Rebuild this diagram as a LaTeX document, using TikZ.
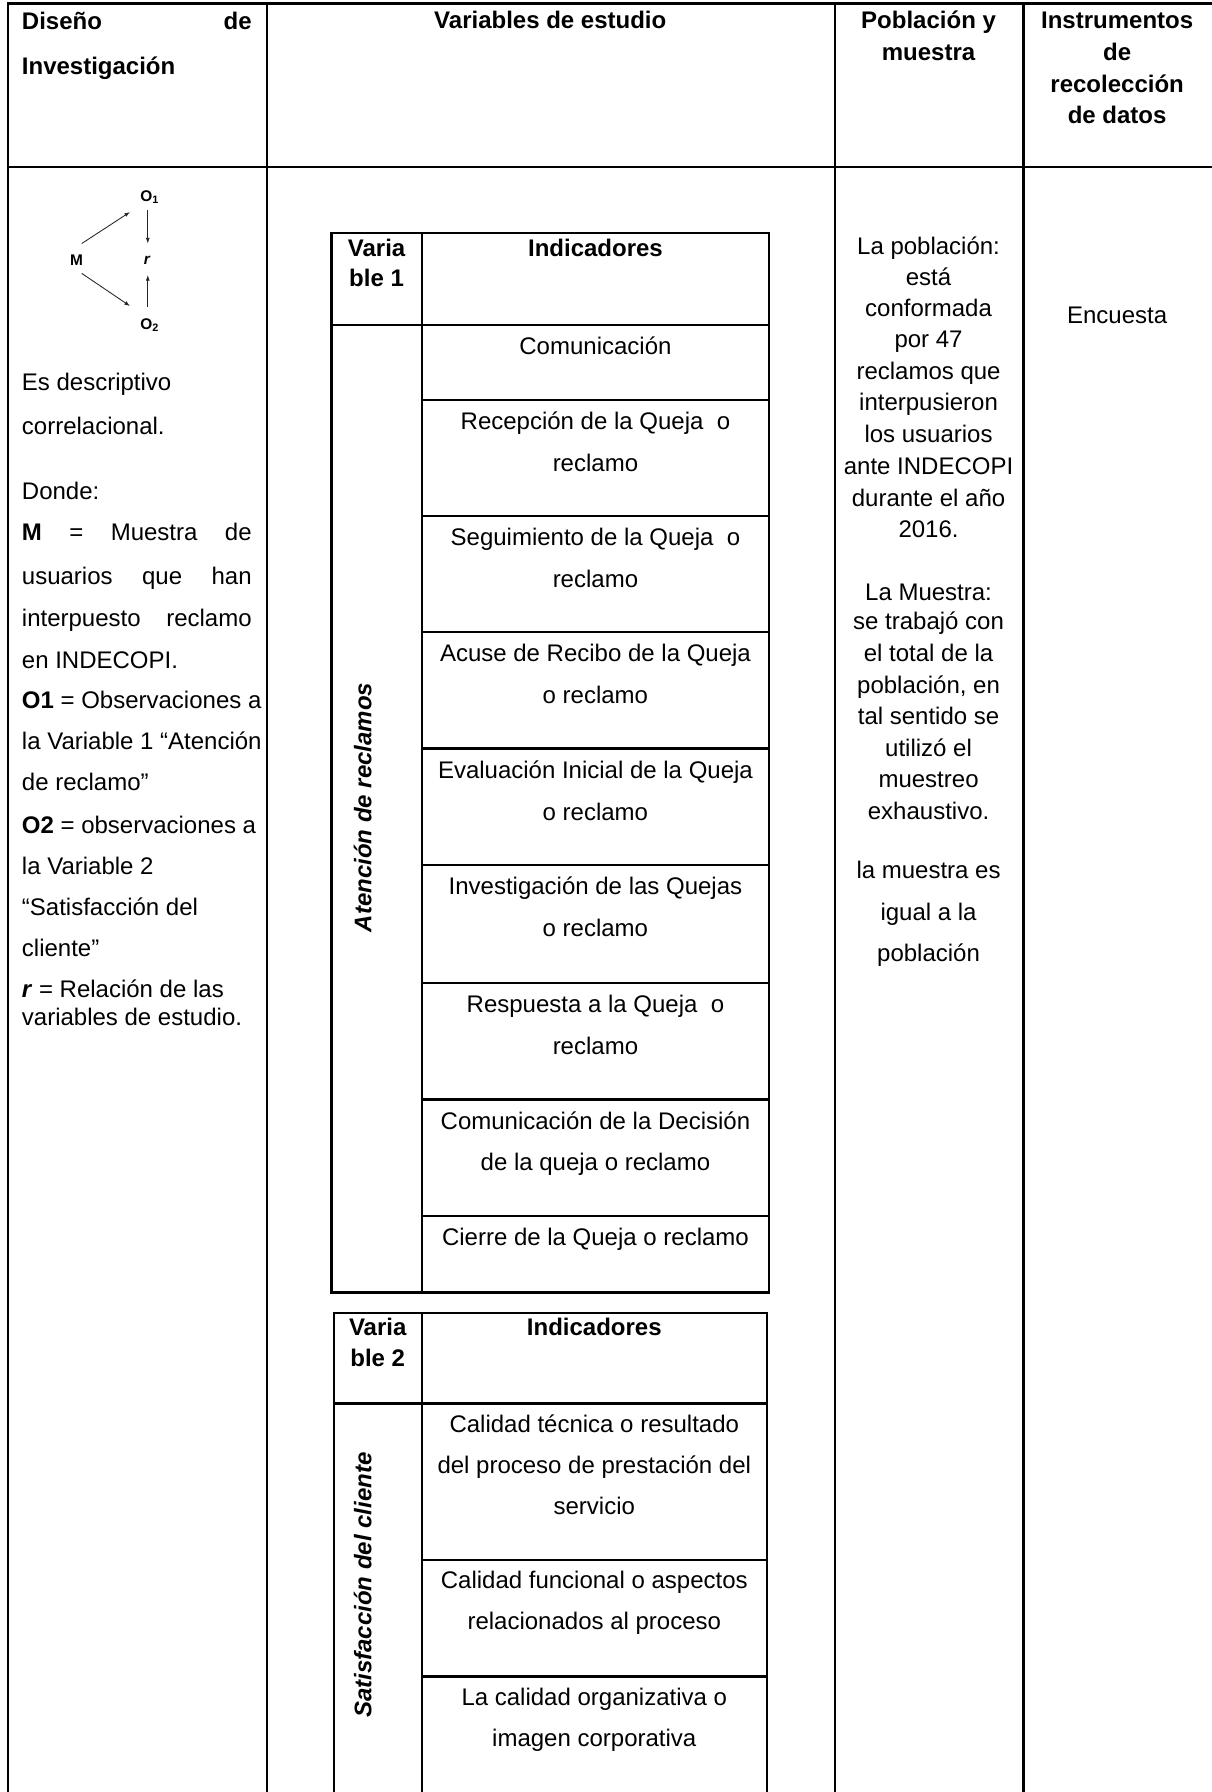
\documentclass[tikz,border=0pt]{standalone}
\usepackage{fontspec}
\setmainfont{Liberation Sans}
\usetikzlibrary{arrows.meta}
\begin{document}
\begin{tikzpicture}[x=1pt,y=-1pt,
  rule/.style={line width=2.1pt, line cap=rect},
  txt/.style={inner sep=0pt, font=\fontsize{21}{25}\selectfont},
  bl/.style={txt, anchor=base west},
  bc/.style={txt, anchor=base},
  hd/.style={inner sep=0pt, anchor=base, font=\fontsize{21}{25}\selectfont\bfseries},
  hdl/.style={inner sep=0pt, anchor=base west, font=\fontsize{21}{25}\selectfont\bfseries},
  vtxt/.style={inner sep=0pt, anchor=base, rotate=90, font=\fontsize{21}{25}\selectfont\bfseries\itshape},
  dg/.style={inner sep=0pt, font=\fontsize{13.5}{15}\selectfont\bfseries},
  arr/.style={line width=0.75pt, draw=black!85, -{Latex[length=5pt,width=3.5pt]}}]
\useasboundingbox (0,0) rectangle (1060,1568);
\fill[white] (0,0) rectangle (1060,1568);

% outer table
\draw[rule] (7,3) -- (1066,3);
\draw[rule] (7,146) -- (1066,146);
\draw[rule] (7,3) -- (7,1575);
\draw[rule] (233.5,3) -- (233.5,1575);
\draw[rule] (730.5,3) -- (730.5,1575);
\draw[rule] (895.5,3) -- (895.5,1575);

% header texts
\node[hdl] (h1a) at (19,26) {\makebox[201pt][s]{Diseño de}};
\node[hdl] (h1b) at (19,65) {Investigación};
\node[hd] (h2) at (481.5,25) {Variables de estudio};
\node[hd] (h3a) at (812.5,25) {Población y};
\node[hd] (h3b) at (812.5,53) {muestra};
\node[hd] (h4a) at (977.5,25) {Instrumentos};
\node[hd] (h4b) at (977.5,53) {de};
\node[hd] (h4c) at (977.5,81) {recolección};
\node[hd] (h4d) at (977.5,108) {de datos};

% design diagram
\node[dg] (M) at (67,227.6) {M};
\node[dg] (O1) at (131,172.5) {O\textsubscript{1}};
\node[dg] (r) at (128.6,227.6) {\itshape r};
\node[dg] (O2) at (131,284.5) {O\textsubscript{2}};
\draw[arr] ([shift={(4.5,-14.5)}]M.center) -- ([shift={(-17.2,13)}]O1.center);
\draw[arr] ([shift={(-1.7,11.5)}]O1.center) -- ([shift={(0.7,-14.5)}]r.center);
\draw[arr] ([shift={(4.5,11.6)}]M.center) -- ([shift={(-17.2,-16.7)}]O2.center);
\draw[arr] ([shift={(-1.7,-16)}]O2.center) -- ([shift={(0.7,13)}]r.center);

% left column text
\node[bl] (l1) at (19,342) {Es descriptivo};
\node[bl] (l2) at (19,380) {correlacional.};
\node[bl] (l3) at (19,437) {Donde:};
\node[bl] (l4) at (19,473) {\makebox[201pt][s]{\textbf{M} = Muestra de}};
\node[bl] (l5) at (19,511) {\makebox[201pt][s]{usuarios que han}};
\node[bl] (l6) at (19,548) {\makebox[201pt][s]{interpuesto reclamo}};
\node[bl] (l7) at (19,585) {en INDECOPI.};
\node[bl] (l8) at (19,620) {\textbf{O1} = Observaciones a};
\node[bl] (l9) at (19,656) {la Variable 1 “Atención};
\node[bl] (l10) at (19,692) {de reclamo”};
\node[bl] (l11) at (19,729) {\textbf{O2} = observaciones a};
\node[bl] (l12) at (19,765) {la Variable 2};
\node[bl] (l13) at (19,801) {“Satisfacción del};
\node[bl] (l14) at (19,837) {cliente”};
\node[bl] (l15) at (19,873) {\textbf{\itshape r} = Relación de las};
\node[bl] (l16) at (19,897) {variables de estudio.};

% inner table 1
\draw[rule] (290,204) rectangle (673,1131);
\draw[rule] (369,204) -- (369,1131);
\draw[rule] (290,284.5) -- (673,284.5);
\foreach \yy in {350,451.6,553,655,757,860,962,1064}
  \draw[rule] (369,\yy) -- (673,\yy);
\node[hd] (v1a) at (329.5,224) {Varia};
\node[hd] (v1b) at (329.5,251) {ble 1};
\node[hd] (i1) at (521,224) {Indicadores};
\node[vtxt] (var1) at (325,706.5) {Atención de reclamos};
\node[bc] (a1) at (521,310) {Comunicación};
\node[bc] (a2a) at (521,376) {Recepción de la Queja\ \ o};
\node[bc] (a2b) at (521,412.5) {reclamo};
\node[bc] (a3a) at (521,477.5) {Seguimiento de la Queja\ \ o};
\node[bc] (a3b) at (521,514) {reclamo};
\node[bc] (a4a) at (521,579) {Acuse de Recibo de la Queja};
\node[bc] (a4b) at (521,615.5) {o reclamo};
\node[bc] (a5a) at (521,681) {Evaluación Inicial de la Queja};
\node[bc] (a5b) at (521,717.5) {o reclamo};
\node[bc] (a6a) at (521,783) {Investigación de las Quejas};
\node[bc] (a6b) at (521,819.5) {o reclamo};
\node[bc] (a7a) at (521,886) {Respuesta a la Queja\ \ o};
\node[bc] (a7b) at (521,922.5) {reclamo};
\node[bc] (a8a) at (521,988) {Comunicación de la Decisión};
\node[bc] (a8b) at (521,1024.5) {de la queja o reclamo};
\node[bc] (a9) at (521,1090) {Cierre de la Queja o reclamo};

% inner table 2
\draw[rule] (292,1575) -- (292,1149) -- (671,1149) -- (671,1575);
\draw[rule] (369,1149) -- (369,1575);
\draw[rule] (292,1228) -- (671,1228);
\draw[rule] (369,1365) -- (671,1365);
\draw[rule] (369,1467) -- (671,1467);
\node[hd] (v2a) at (330.5,1168.5) {Varia};
\node[hd] (v2b) at (330.5,1195.5) {ble 2};
\node[hd] (i2) at (520,1168.5) {Indicadores};
\node[vtxt] (var2) at (325,1387) {Satisfacción del cliente};
\node[bc] (b1a) at (520,1253) {Calidad técnica o resultado};
\node[bc] (b1b) at (520,1289) {del proceso de prestación del};
\node[bc] (b1c) at (520,1325) {servicio};
\node[bc] (b2a) at (520,1390) {Calidad funcional o aspectos};
\node[bc] (b2b) at (520,1426) {relacionados al proceso};
\node[bc] (b3a) at (520,1492) {La calidad organizativa o};
\node[bc] (b3b) at (520,1528) {imagen corporativa};

% population column
\node[bc] (p1) at (812.5,223) {La población:};
\node[bc] (p2) at (812.5,250) {está};
\node[bc] (p3) at (812.5,277) {conformada};
\node[bc] (p4) at (812.5,304) {por 47};
\node[bc] (p5) at (812.5,332) {reclamos que};
\node[bc] (p6) at (812.5,359) {interpusieron};
\node[bc] (p7) at (812.5,387) {los usuarios};
\node[bc] (p8) at (812.5,415) {ante INDECOPI};
\node[bc] (p9) at (812.5,443) {durante el año};
\node[bc] (p10) at (812.5,470) {2016.};
\node[bc] (q1) at (812.5,525) {La Muestra:};
\node[bc] (q2) at (812.5,551) {se trabajó con};
\node[bc] (q3) at (812.5,579) {el total de la};
\node[bc] (q4) at (812.5,607) {población, en};
\node[bc] (q5) at (812.5,634) {tal sentido se};
\node[bc] (q6) at (812.5,662) {utilizó el};
\node[bc] (q7) at (812.5,689) {muestreo};
\node[bc] (q8) at (812.5,717) {exhaustivo.};
\node[bc] (s1) at (812.5,769) {la muestra es};
\node[bc] (s2) at (812.5,805) {igual a la};
\node[bc] (s3) at (812.5,841) {población};

% instrument column
\node[bc] (enc) at (977.5,283) {Encuesta};
\end{tikzpicture}
\end{document}
